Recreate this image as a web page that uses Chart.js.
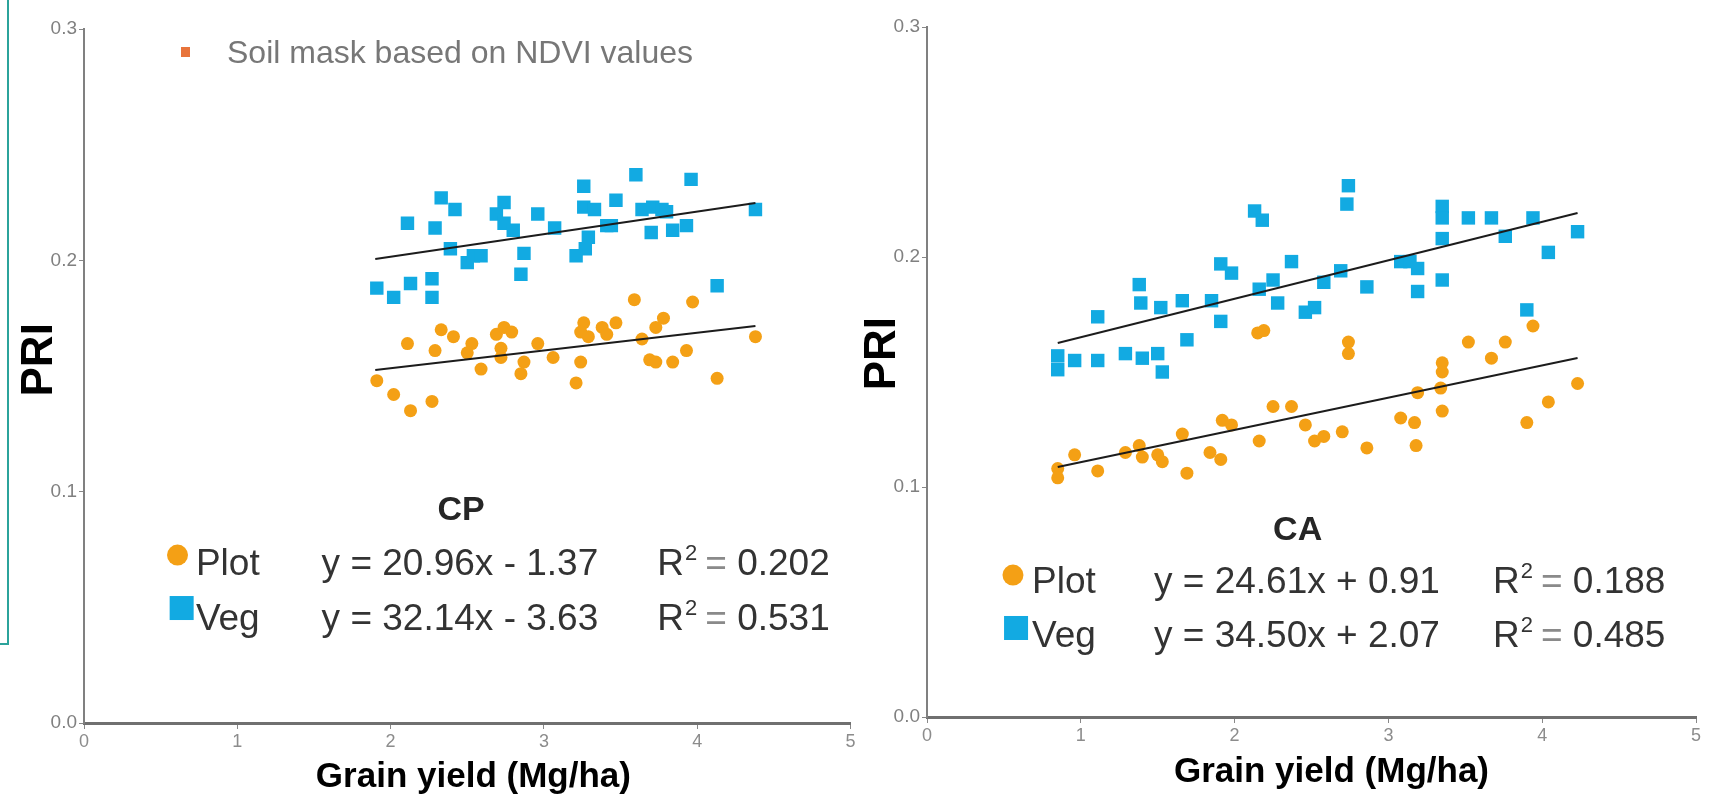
<!DOCTYPE html>
<html>
<head>
<meta charset="utf-8">
<title>PRI vs grain yield</title>
<script src="https://cdn.jsdelivr.net/npm/chart.js@4.4.1/dist/chart.umd.min.js"></script>
<style>
    body { margin: 0; width: 1716px; height: 797px; overflow: hidden; background: #fff; position: relative;
           font-family: "Liberation Sans", Arial, sans-serif; }
    canvas { position: absolute; top: 0; }
    #cpChart { left: 0; }
    #caChart { left: 860px; }
    .frame { position: absolute; left: 0; top: 0; width: 7px; height: 643px;
             border-right: 2px solid #2ba39b; border-bottom: 2px solid #2ba39b; }
    .note { position: absolute; left: 227px; top: 36px; font-size: 32px; line-height: 32px; color: #777; white-space: nowrap; }
    .bullet { position: absolute; left: 181px; top: 47px; width: 9px; height: 10px; background: #e8743b; }
</style>
</head>
<body>
<canvas id="cpChart" width="860" height="797"></canvas>
<canvas id="caChart" width="856" height="797"></canvas>
<div class="frame"></div>
<div class="bullet"></div>
<div class="note">Soil mask based on NDVI values</div>

<script>
// ---- data ----
const seriesNames = ['Plot', 'Veg'];

// CP panel
const cpVegX = [1.91, 2.02, 2.13, 2.27, 2.27, 2.11, 2.29, 2.33, 2.42, 2.39, 2.50, 2.54, 2.59, 2.74, 2.69, 2.74, 2.80, 2.96, 3.07, 2.87,
                2.85, 3.26, 3.26, 3.33, 3.47, 3.60, 3.41, 3.44, 3.29, 3.27, 3.21, 3.64, 3.71, 3.77, 3.80, 3.70, 3.84, 3.93, 3.96, 4.38, 4.13];
const cpVegY = [0.188, 0.184, 0.190, 0.192, 0.184, 0.216, 0.214, 0.227, 0.222, 0.205, 0.199, 0.202, 0.202, 0.225, 0.220, 0.216, 0.213, 0.220, 0.214, 0.203,
                0.194, 0.232, 0.223, 0.222, 0.226, 0.237, 0.215, 0.215, 0.210, 0.205, 0.202, 0.222, 0.223, 0.222, 0.221, 0.212, 0.213, 0.215, 0.235, 0.222, 0.189];
const cpPlotX = [1.91, 2.02, 2.13, 2.27, 2.11, 2.29, 2.33, 2.41, 2.53, 2.50, 2.59, 2.69, 2.74, 2.79, 2.72, 2.72, 2.87, 2.85, 2.96, 3.06,
                 3.24, 3.21, 3.26, 3.24, 3.29, 3.38, 3.41, 3.47, 3.59, 3.73, 3.78, 3.64, 3.69, 3.73, 3.84, 3.93, 3.97, 4.13, 4.38];
const cpPlotY = [0.148, 0.142, 0.135, 0.139, 0.164, 0.161, 0.170, 0.167, 0.164, 0.160, 0.153, 0.168, 0.171, 0.169, 0.162, 0.158, 0.156, 0.151, 0.164, 0.158,
                 0.156, 0.147, 0.173, 0.169, 0.167, 0.171, 0.168, 0.173, 0.183, 0.171, 0.175, 0.166, 0.157, 0.156, 0.156, 0.161, 0.182, 0.149, 0.167];
const cpVegFitX = [1.90, 4.38];
const cpVegFitY = [0.2006, 0.2248];
const cpPlotFitX = [1.90, 4.38];
const cpPlotFitY = [0.1526, 0.1716];
const cpEquations = ['y = 20.96x - 1.37', 'y = 32.14x - 3.63'];
const cpR2 = ['0.202', '0.531'];

// CA panel
const caVegX = [0.85, 0.85, 0.96, 1.11, 1.11, 1.29, 1.40, 1.50, 1.53, 1.38, 1.39, 1.52, 1.66, 1.69, 1.85, 1.91, 1.91, 1.98, 2.13, 2.18,
                2.16, 2.25, 2.28, 2.37, 2.46, 2.52, 2.58, 2.69, 2.74, 2.73, 2.86, 3.08, 3.14, 3.19, 3.19, 3.35, 3.35, 3.35, 3.35, 3.52,
                3.67, 3.76, 3.94, 3.90, 4.04, 4.23];
const caVegY = [0.157, 0.151, 0.155, 0.155, 0.174, 0.158, 0.156, 0.158, 0.150, 0.188, 0.180, 0.178, 0.181, 0.164, 0.181, 0.172, 0.197, 0.193, 0.220, 0.216,
                0.186, 0.190, 0.180, 0.198, 0.176, 0.178, 0.189, 0.194, 0.231, 0.223, 0.187, 0.198, 0.198, 0.195, 0.185, 0.222, 0.217, 0.208, 0.190, 0.217,
                0.217, 0.209, 0.217, 0.177, 0.202, 0.211];
const caPlotX = [0.85, 0.85, 0.96, 1.11, 1.29, 1.38, 1.40, 1.50, 1.53, 1.66, 1.69, 1.84, 1.91, 1.92, 1.98, 2.15, 2.19, 2.16, 2.25, 2.37,
                 2.46, 2.52, 2.58, 2.70, 2.74, 2.74, 2.86, 3.08, 3.17, 3.19, 3.18, 3.35, 3.35, 3.34, 3.35, 3.52, 3.67, 3.76, 3.94, 3.90,
                 4.04, 4.23];
const caPlotY = [0.108, 0.104, 0.114, 0.107, 0.115, 0.118, 0.113, 0.114, 0.111, 0.123, 0.106, 0.115, 0.112, 0.129, 0.127, 0.167, 0.168, 0.120, 0.135, 0.135,
                 0.127, 0.120, 0.122, 0.124, 0.163, 0.158, 0.117, 0.130, 0.128, 0.141, 0.118, 0.154, 0.150, 0.143, 0.133, 0.163, 0.156, 0.163, 0.170, 0.128,
                 0.137, 0.145];
const caVegFitX = [0.85, 4.23];
const caVegFitY = [0.1626, 0.2191];
const caPlotFitX = [0.85, 4.23];
const caPlotFitY = [0.1087, 0.1561];
const caEquations = ['y = 24.61x + 0.91', 'y = 34.50x + 2.07'];
const caR2 = ['0.188', '0.485'];

const xTitle = 'Grain yield (Mg/ha)';
const yTitle = 'PRI';

// ---- styling ----
const FONT = '"Liberation Sans", Arial, sans-serif';
const ORANGE = '#f4a015';
const BLUE = '#12aae2';
Chart.defaults.font.family = FONT;

function pts(xs, ys) {
    return xs.map((v, i) => ({ x: v, y: ys[i] }));
}

function fitLine(xs, ys) {
    return { data: pts(xs, ys), showLine: true, pointRadius: 0, borderColor: '#1c1c1c', borderWidth: 2, fill: false };
}

// draws axis titles and the in-plot equation legend
const panelText = {
    id: 'panelText',
    afterDraw(chart, args, o) {
        const { ctx, scales: { x, y } } = chart;
        const X = v => x.getPixelForValue(v);
        const Y = v => y.getPixelForValue(v);
        ctx.save();
        ctx.fillStyle = '#000';
        ctx.textAlign = 'center';
        ctx.textBaseline = 'alphabetic';
        ctx.font = 'bold 35px ' + FONT;
        ctx.fillText(xTitle, X(o.xTitleX), y.bottom + o.xTitleGap);

        ctx.save();
        ctx.translate(x.left - 32, Y(o.yTitleY));
        ctx.rotate(-Math.PI / 2);
        ctx.font = 'bold 44px ' + FONT;
        ctx.fillText(yTitle, 0, 0);
        ctx.restore();

        ctx.fillStyle = '#262626';
        ctx.font = 'bold 34px ' + FONT;
        ctx.fillText(o.name, X(o.nameX), Y(o.nameY));

        ctx.textAlign = 'left';
        o.rows.forEach((r, i) => {
            const by = Y(r.baseline);
            const my = Y(r.markerY);
            const mx = X(r.markerX);
            if (i === 0) {
                ctx.fillStyle = ORANGE;
                ctx.beginPath();
                ctx.arc(mx, my, 10.5, 0, Math.PI * 2);
                ctx.fill();
            } else {
                ctx.fillStyle = BLUE;
                ctx.fillRect(mx - 12, my - 12, 24, 24);
            }
            ctx.fillStyle = '#333';
            ctx.font = '37px ' + FONT;
            ctx.fillText(seriesNames[i], X(o.labelX), by);
            ctx.fillText(o.equations[i], X(o.eqX), by);
            let rx = X(o.r2X);
            ctx.fillText('R', rx, by);
            rx += ctx.measureText('R').width + 1;
            ctx.font = '22px ' + FONT;
            ctx.fillText('2', rx, by - 15);
            rx += ctx.measureText('2').width + 8;
            ctx.font = '37px ' + FONT;
            ctx.fillStyle = '#8a8a8a';
            ctx.fillText('=', rx, by);
            rx += ctx.measureText('= ').width;
            ctx.fillStyle = '#333';
            ctx.fillText(o.r2[i], rx, by);
        });
        ctx.restore();
    }
};

function makePanel(id, d) {
    return new Chart(document.getElementById(id), {
        type: 'scatter',
        data: {
            datasets: [
                fitLine(d.vegFitX, d.vegFitY),
                fitLine(d.plotFitX, d.plotFitY),
                { label: seriesNames[1], data: pts(d.vegX, d.vegY), pointStyle: 'rect', pointRadius: 9.5,
                  backgroundColor: BLUE, borderWidth: 0 },
                { label: seriesNames[0], data: pts(d.plotX, d.plotY), pointStyle: 'circle', pointRadius: 6.5,
                  backgroundColor: ORANGE, borderWidth: 0 }
            ]
        },
        options: {
            responsive: false,
            animation: false,
            devicePixelRatio: 1,
            layout: { padding: d.padding },
            plugins: {
                legend: { display: false },
                tooltip: { enabled: false },
                panelText: d.text
            },
            scales: {
                x: {
                    type: 'linear', min: 0, max: 5,
                    ticks: { stepSize: 1, color: '#8c8c8c', font: { size: 18 }, padding: 2 },
                    grid: { drawOnChartArea: false, drawTicks: true, tickLength: 6, color: '#888' },
                    border: { display: true, color: '#707070', width: 3 },
                    afterFit: s => { s.height = d.xAxisHeight; }
                },
                y: {
                    min: 0, max: 0.3,
                    ticks: { stepSize: 0.1, color: '#808080', font: { size: 19 }, padding: 2,
                             callback: v => v.toFixed(1) },
                    grid: { drawOnChartArea: false, drawTicks: true, tickLength: 5, color: '#888' },
                    border: { display: true, color: '#808080', width: 2 },
                    afterFit: s => { s.width = d.yAxisWidth; }
                }
            }
        },
        plugins: [panelText]
    });
}

makePanel('cpChart', {
    vegX: cpVegX, vegY: cpVegY, plotX: cpPlotX, plotY: cpPlotY,
    vegFitX: cpVegFitX, vegFitY: cpVegFitY, plotFitX: cpPlotFitX, plotFitY: cpPlotFitY,
    padding: { top: 29, right: 7, left: 0, bottom: 0 },
    xAxisHeight: 74, yAxisWidth: 84,
    text: {
        xTitleX: 2.54, xTitleGap: 64, yTitleY: 0.157,
        name: 'CP', nameX: 2.46, nameY: 0.0878,
        labelX: 0.73, eqX: 1.55, r2X: 3.74,
        equations: cpEquations, r2: cpR2,
        rows: [
            { baseline: 0.0640, markerX: 0.61, markerY: 0.0726 },
            { baseline: 0.0402, markerX: 0.637, markerY: 0.0497 }
        ]
    }
});

makePanel('caChart', {
    vegX: caVegX, vegY: caVegY, plotX: caPlotX, plotY: caPlotY,
    vegFitX: caVegFitX, vegFitY: caVegFitY, plotFitX: caPlotFitX, plotFitY: caPlotFitY,
    padding: { top: 27, right: 20, left: 0, bottom: 0 },
    xAxisHeight: 80, yAxisWidth: 67,
    text: {
        xTitleX: 2.63, xTitleGap: 65, yTitleY: 0.158,
        name: 'CA', nameX: 2.41, nameY: 0.0770,
        labelX: 0.683, eqX: 1.476, r2X: 3.68,
        equations: caEquations, r2: caR2,
        rows: [
            { baseline: 0.0539, markerX: 0.559, markerY: 0.0617 },
            { baseline: 0.0304, markerX: 0.579, markerY: 0.0387 }
        ]
    }
});
</script>
</body>
</html>
